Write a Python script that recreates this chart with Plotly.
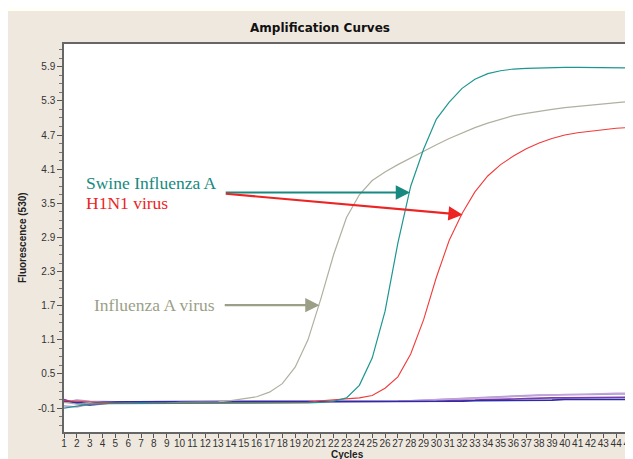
import plotly.graph_objects as go

cycles = list(range(1, 46))

swine_h1n1 = [-0.10, -0.06, -0.03, -0.02, -0.02, -0.01, -0.01, -0.01, -0.01, -0.01,
              -0.01, -0.01, -0.01, -0.01, -0.01, -0.01, -0.01, -0.01, -0.01, -0.01,
              0.00, 0.02, 0.08, 0.30, 0.78, 1.60, 2.80, 3.80, 4.45, 4.98,
              5.28, 5.52, 5.68, 5.78, 5.83, 5.86, 5.87, 5.88, 5.88, 5.89,
              5.89, 5.89, 5.88, 5.88, 5.88]

h1n1_red = [0.03, 0.02, 0.00, -0.01, -0.01, -0.01, -0.02, -0.01, -0.01, -0.01,
            -0.01, -0.01, -0.01, -0.01, -0.01, -0.01, -0.01, -0.01, -0.01, 0.00,
            0.03, 0.05, 0.06, 0.08, 0.12, 0.25, 0.45, 0.85, 1.45, 2.20,
            2.85, 3.32, 3.70, 3.98, 4.18, 4.33, 4.46, 4.56, 4.64, 4.70,
            4.74, 4.77, 4.80, 4.82, 4.83]

influenza_a = [0.00, -0.03, -0.02, -0.02, -0.02, -0.01, -0.01, -0.01, -0.01, 0.00,
               0.00, 0.00, 0.01, 0.03, 0.06, 0.10, 0.18, 0.33, 0.62, 1.10,
               1.82, 2.60, 3.25, 3.65, 3.90, 4.05, 4.18, 4.30, 4.42, 4.53,
               4.64, 4.74, 4.83, 4.91, 4.98, 5.04, 5.08, 5.12, 5.15, 5.18,
               5.20, 5.22, 5.25, 5.27, 5.29]

neg_blue = [0.02, 0.00, -0.02, 0.00, 0.01, 0.01, 0.01, 0.01, 0.01, 0.01,
            0.01, 0.01, 0.01, 0.01, 0.01, 0.01, 0.01, 0.01, 0.01, 0.01,
            0.01, 0.01, 0.01, 0.01, 0.01, 0.01, 0.01, 0.02, 0.02, 0.02,
            0.02, 0.02, 0.03, 0.03, 0.03, 0.04, 0.04, 0.04, 0.04, 0.05,
            0.05, 0.05, 0.05, 0.05, 0.05]

neg_purple = [0.05, -0.02, -0.05, -0.02, 0.00, 0.01, 0.01, 0.02, 0.02, 0.02,
              0.02, 0.02, 0.01, 0.01, 0.01, 0.01, 0.02, 0.02, 0.02, 0.02,
              0.02, 0.02, 0.02, 0.02, 0.02, 0.01, 0.01, 0.02, 0.02, 0.02,
              0.03, 0.03, 0.04, 0.05, 0.05, 0.06, 0.07, 0.08, 0.08, 0.08,
              0.08, 0.08, 0.09, 0.09, 0.09]

neg_violet = [-0.06, -0.08, -0.03, 0.00, 0.01, 0.01, 0.01, 0.01, 0.01, 0.01,
              0.01, 0.01, 0.01, 0.01, 0.01, 0.01, 0.01, 0.01, 0.01, 0.01,
              0.01, 0.01, 0.01, 0.01, 0.01, 0.01, 0.02, 0.03, 0.04, 0.05,
              0.05, 0.06, 0.08, 0.09, 0.10, 0.11, 0.12, 0.13, 0.13, 0.14,
              0.14, 0.15, 0.15, 0.16, 0.16]

neg_lavender = [0.00, 0.04, 0.02, 0.01, 0.01, 0.01, 0.01, 0.01, 0.01, 0.01,
                0.01, 0.01, 0.01, 0.01, 0.01, 0.01, 0.01, 0.01, 0.01, 0.01,
                0.01, 0.01, 0.01, 0.01, 0.01, 0.01, 0.02, 0.03, 0.04, 0.06,
                0.07, 0.08, 0.09, 0.10, 0.11, 0.12, 0.12, 0.13, 0.13, 0.14,
                0.14, 0.14, 0.15, 0.15, 0.15]

y_tick_vals = [-0.1, 0.5, 1.1, 1.7, 2.3, 2.9, 3.5, 4.1, 4.7, 5.3, 5.9]
y_tick_text = ["-0.1", "0.5", "1.1", "1.7", "2.3", "2.9", "3.5", "4.1", "4.7", "5.3", "5.9"]

fig = go.Figure()

neg_series = [(neg_lavender, "#9a9ad8"), (neg_violet, "#c8a0d8"),
              (neg_purple, "#7a3aa8"), (neg_blue, "#2c2ca6")]
for vals, col in neg_series:
    fig.add_trace(go.Scatter(x=cycles, y=vals, mode="lines",
                             line=dict(color=col, width=1.6), showlegend=False,
                             hoverinfo="skip"))

fig.add_trace(go.Scatter(x=cycles, y=influenza_a, mode="lines",
                         line=dict(color="#aeb0a0", width=1.2), showlegend=False))
fig.add_trace(go.Scatter(x=cycles, y=h1n1_red, mode="lines",
                         line=dict(color="#f23a3a", width=1.1), showlegend=False))
fig.add_trace(go.Scatter(x=cycles, y=swine_h1n1, mode="lines",
                         line=dict(color="#1e9690", width=1.2), showlegend=False))

serif = "Liberation Serif, Times New Roman, serif"
sans = "Liberation Sans, Arial, sans-serif"
teal = "#168a80"
red = "#ec2424"
grayg = "#9b9f88"

# the page body adds an 8px offset; figure is sized to fill the rest of the window
OFF = 8
FW, FH = 633 - OFF, 459 - OFF
L, T, R, B = 64 - OFF, 44 - OFF, 4, 27
PW, PH = FW - L - R, FH - T - B  # plot area size in px

annotations = [
    dict(x=2.55, y=3.86, xref="x", yref="y", text="Swine Influenza A", showarrow=False,
         xanchor="left", yanchor="middle", font=dict(family=serif, size=17.5, color=teal)),
    dict(x=2.55, y=3.51, xref="x", yref="y", text="H1N1 virus", showarrow=False,
         xanchor="left", yanchor="middle", font=dict(family=serif, size=17.5, color=red)),
    dict(x=3.15, y=1.71, xref="x", yref="y", text="Influenza A virus", showarrow=False,
         xanchor="left", yanchor="middle", font=dict(family=serif, size=17.5, color=grayg)),
    dict(x=27.95, y=3.69, ax=13.48, ay=3.69, xref="x", yref="y", axref="x", ayref="y",
         text="", showarrow=True, arrowhead=2, arrowsize=1.3, arrowwidth=2.2, arrowcolor=teal),
    dict(x=32.05, y=3.30, ax=13.48, ay=3.67, xref="x", yref="y", axref="x", ayref="y",
         text="", showarrow=True, arrowhead=2, arrowsize=1.3, arrowwidth=2.2, arrowcolor=red),
    dict(x=20.9, y=1.71, ax=13.4, ay=1.71, xref="x", yref="y", axref="x", ayref="y",
         text="", showarrow=True, arrowhead=2, arrowsize=1.3, arrowwidth=2.2, arrowcolor=grayg),
    dict(x=(347 - 64) / PW, y=-(454 - 432) / PH, xref="paper", yref="paper",
         text="<b>Cycles</b>", showarrow=False, xanchor="center", yanchor="middle",
         font=dict(family=sans, size=10, color="#222222")),
    dict(x=(22 - 64) / PW, y=(432 - 238) / PH, xref="paper", yref="paper",
         text="<b>Fluorescence (530)</b>", showarrow=False, textangle=-90,
         xanchor="center", yanchor="middle",
         font=dict(family=sans, size=10, color="#222222")),
]

fig.update_layout(
    width=FW, height=FH,
    paper_bgcolor="#efe8df",
    plot_bgcolor="#ffffff",
    margin=dict(l=L, r=R, t=T, b=B, autoexpand=False),
    title=dict(text="<b>Amplification Curves</b>", x=(320 - 64) / PW, xref="paper",
               xanchor="center", y=1 - (28 - OFF) / FH, yref="container", yanchor="middle",
               font=dict(family="DejaVu Sans", size=12, color="#111111")),
    annotations=annotations,
    shapes=[dict(type="rect", xref="paper", yref="paper",
                 x0=-0.2, x1=1.2, y0=1 + (44 - 11) / PH, y1=1.2,
                 fillcolor="#fffff4", line=dict(width=0), layer="below")],
    font=dict(family=sans, color="#333333"),
)

fig.update_xaxes(
    range=[1, 45], tickmode="linear", tick0=1, dtick=1, tickangle=0,
    ticks="outside", ticklen=4, tickcolor="#555555", tickwidth=1,
    ticklabelstandoff=-3, ticklabeloverflow="allow",
    tickfont=dict(size=10, color="#333333"),
    showgrid=False, zeroline=False, automargin=False,
    showline=True, linecolor="#666666", linewidth=1.5, mirror=True,
)

fig.update_yaxes(
    range=[-0.52, 6.3], tickmode="array", tickvals=y_tick_vals, ticktext=y_tick_text,
    ticks="outside", ticklen=5, tickcolor="#555555",
    minor=dict(tickmode="linear", tick0=-0.1, dtick=0.15, ticks="outside", ticklen=3,
               tickcolor="#777777", showgrid=False),
    tickfont=dict(size=10, color="#333333"),
    showgrid=False, zeroline=False, automargin=False,
    showline=True, linecolor="#666666", linewidth=1.5, mirror=True,
)

fig.write_html("out.html")
